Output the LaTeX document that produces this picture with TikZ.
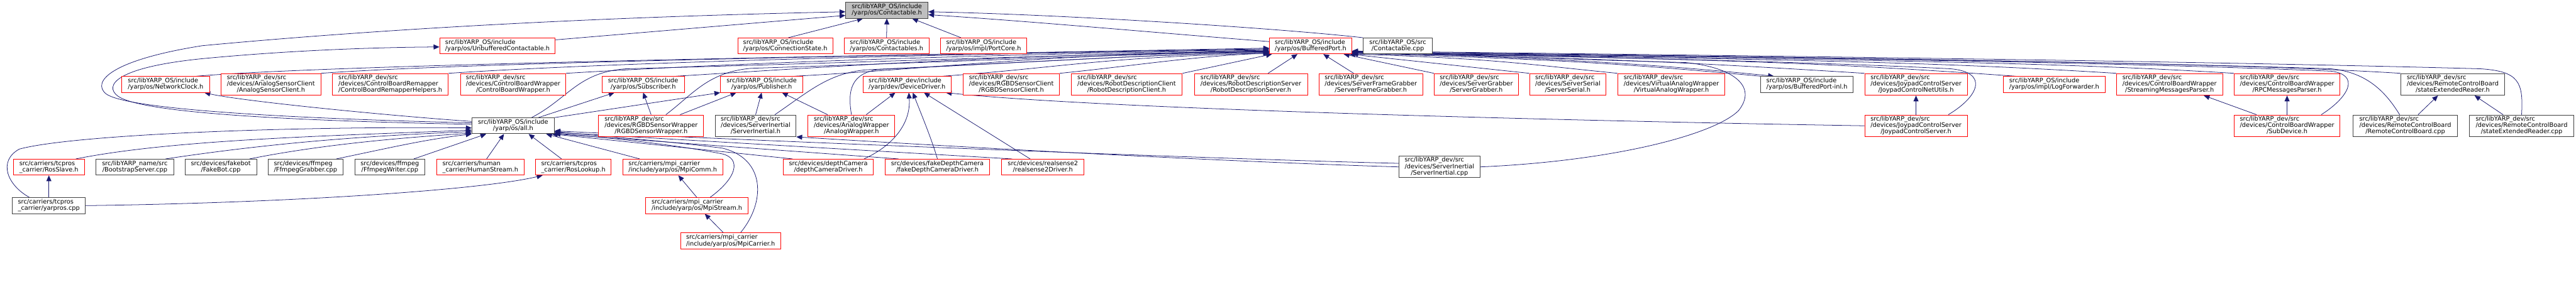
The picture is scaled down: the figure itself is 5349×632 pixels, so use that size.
\documentclass[tikz,border=0pt]{standalone}
\usepackage{fontspec}
\setmainfont{DejaVu Sans}
\usetikzlibrary{arrows.meta}
\pgfdeclarelayer{background}
\pgfsetlayers{background,main}
\definecolor{edgeblue}{HTML}{191970}
\definecolor{boxgrey}{HTML}{404040}
\definecolor{rootfill}{HTML}{BFBFBF}
\definecolor{boxred}{HTML}{FF0000}
\newcommand{\gnode}[7]{\node[#1, minimum width={(#5-#3)*0.5pt}, minimum height={(#6-#4)*0.5pt}] (#2) at ({(#3+#5)/2},{(#4+#6)/2}) {#7};}
\newcommand{\labtwo}[2]{\begin{tabular}{@{}l@{}}#1\\\multicolumn{1}{@{}c@{}}{#2}\end{tabular}}
\newcommand{\labthree}[3]{\begin{tabular}{@{}l@{}}#1\\#2\\\multicolumn{1}{@{}c@{}}{#3}\end{tabular}}
\begin{document}
\begin{tikzpicture}[x=0.5pt,y=-0.5pt,
  gbox/.style={rectangle, draw, line width=0.6pt, inner sep=0pt, fill=white, font=\fontsize{6.4}{6.2}\selectfont},
  redbox/.style={gbox, draw=boxred},
  greybox/.style={gbox, draw=boxgrey},
  rootbox/.style={gbox, draw=boxgrey, fill=rootfill},
  dep/.style={edgeblue, line width=0.5pt, -{Triangle[length=6pt,width=5.2pt]}}]
\useasboundingbox (0,0) rectangle (5349,632);
% row 0
\gnode{rootbox}{cont}{1756}{5}{1927}{38}{\labtwo{src/libYARP\_OS/include}{/yarp/os/Contactable.h}}
% row 1
\gnode{redbox}{unb}{913}{79}{1153}{112}{\labtwo{src/libYARP\_OS/include}{/yarp/os/UnbufferedContactable.h}}
\gnode{redbox}{cstate}{1532}{79}{1729}{112}{\labtwo{src/libYARP\_OS/include}{/yarp/os/ConnectionState.h}}
\gnode{redbox}{ctbles}{1753}{79}{1929}{112}{\labtwo{src/libYARP\_OS/include}{/yarp/os/Contactables.h}}
\gnode{redbox}{pcore}{1953}{79}{2132}{112}{\labtwo{src/libYARP\_OS/include}{/yarp/os/impl/PortCore.h}}
\gnode{redbox}{bp}{2636}{79}{2807}{112}{\labtwo{src/libYARP\_OS/include}{/yarp/os/BufferedPort.h}}
\gnode{greybox}{ccpp}{2831}{79}{2974}{112}{\labtwo{src/libYARP\_OS/src}{/Contactable.cpp}}
% row 2
\gnode{redbox}{nclock}{253}{159}{435}{192}{\labtwo{src/libYARP\_OS/include}{/yarp/os/NetworkClock.h}}
\gnode{redbox}{asc}{459}{153}{666}{198}{\labthree{src/libYARP\_dev/src}{/devices/AnalogSensorClient}{/AnalogSensorClient.h}}
\gnode{redbox}{cbrh}{690}{153}{931}{198}{\labthree{src/libYARP\_dev/src}{/devices/ControlBoardRemapper}{/ControlBoardRemapperHelpers.h}}
\gnode{redbox}{cbw}{956}{153}{1175}{198}{\labthree{src/libYARP\_dev/src}{/devices/ControlBoardWrapper}{/ControlBoardWrapper.h}}
\gnode{redbox}{sub}{1250}{159}{1421}{192}{\labtwo{src/libYARP\_OS/include}{/yarp/os/Subscriber.h}}
\gnode{redbox}{pub}{1496}{159}{1667}{192}{\labtwo{src/libYARP\_OS/include}{/yarp/os/Publisher.h}}
\gnode{redbox}{dd}{1792}{159}{1975}{192}{\labtwo{src/libYARP\_dev/include}{/yarp/dev/DeviceDriver.h}}
\gnode{redbox}{rgbdc}{2000}{153}{2200}{198}{\labthree{src/libYARP\_dev/src}{/devices/RGBDSensorClient}{/RGBDSensorClient.h}}
\gnode{redbox}{rdc}{2224}{153}{2455}{198}{\labthree{src/libYARP\_dev/src}{/devices/RobotDescriptionClient}{/RobotDescriptionClient.h}}
\gnode{redbox}{rds}{2480}{153}{2715}{198}{\labthree{src/libYARP\_dev/src}{/devices/RobotDescriptionServer}{/RobotDescriptionServer.h}}
\gnode{redbox}{sfg}{2739}{153}{2954}{198}{\labthree{src/libYARP\_dev/src}{/devices/ServerFrameGrabber}{/ServerFrameGrabber.h}}
\gnode{redbox}{sg}{2978}{153}{3153}{198}{\labthree{src/libYARP\_dev/src}{/devices/ServerGrabber}{/ServerGrabber.h}}
\gnode{redbox}{ss}{3176}{153}{3335}{198}{\labthree{src/libYARP\_dev/src}{/devices/ServerSerial}{/ServerSerial.h}}
\gnode{redbox}{vaw}{3359}{153}{3582}{198}{\labthree{src/libYARP\_dev/src}{/devices/VirtualAnalogWrapper}{/VirtualAnalogWrapper.h}}
\gnode{greybox}{bpinl}{3656}{159}{3848}{192}{\labtwo{src/libYARP\_OS/include}{/yarp/os/BufferedPort-inl.h}}
\gnode{redbox}{jnu}{3872}{153}{4085}{198}{\labthree{src/libYARP\_dev/src}{/devices/JoypadControlServer}{/JoypadControlNetUtils.h}}
\gnode{redbox}{logf}{4160}{159}{4371}{192}{\labtwo{src/libYARP\_OS/include}{/yarp/os/impl/LogForwarder.h}}
\gnode{redbox}{smp}{4395}{153}{4615}{198}{\labthree{src/libYARP\_dev/src}{/devices/ControlBoardWrapper}{/StreamingMessagesParser.h}}
\gnode{redbox}{rpc}{4639}{153}{4859}{198}{\labthree{src/libYARP\_dev/src}{/devices/ControlBoardWrapper}{/RPCMessagesParser.h}}
\gnode{greybox}{serh}{4985}{153}{5201}{198}{\labthree{src/libYARP\_dev/src}{/devices/RemoteControlBoard}{/stateExtendedReader.h}}
% row 3
\gnode{greybox}{all}{980}{245}{1151}{278}{\labtwo{src/libYARP\_OS/include}{/yarp/os/all.h}}
\gnode{redbox}{rgbdw}{1243}{239}{1461}{284}{\labthree{src/libYARP\_dev/src}{/devices/RGBDSensorWrapper}{/RGBDSensorWrapper.h}}
\gnode{greybox}{sih}{1485}{239}{1653}{284}{\labthree{src/libYARP\_dev/src}{/devices/ServerInertial}{/ServerInertial.h}}
\gnode{redbox}{aw}{1678}{239}{1858}{284}{\labthree{src/libYARP\_dev/src}{/devices/AnalogWrapper}{/AnalogWrapper.h}}
\gnode{redbox}{jcs}{3872}{239}{4085}{284}{\labthree{src/libYARP\_dev/src}{/devices/JoypadControlServer}{/JoypadControlServer.h}}
\gnode{redbox}{subd}{4639}{239}{4859}{284}{\labthree{src/libYARP\_dev/src}{/devices/ControlBoardWrapper}{/SubDevice.h}}
\gnode{greybox}{rcb}{4886}{239}{5103}{284}{\labthree{src/libYARP\_dev/src}{/devices/RemoteControlBoard}{/RemoteControlBoard.cpp}}
\gnode{greybox}{sercpp}{5128}{239}{5344}{284}{\labthree{src/libYARP\_dev/src}{/devices/RemoteControlBoard}{/stateExtendedReader.cpp}}
% row 4
\gnode{redbox}{rosslave}{28}{331}{175}{364}{\labtwo{src/carriers/tcpros}{\_carrier/RosSlave.h}}
\gnode{greybox}{boot}{199}{331}{361}{364}{\labtwo{src/libYARP\_name/src}{/BootstrapServer.cpp}}
\gnode{greybox}{fakebot}{384}{331}{533}{364}{\labtwo{src/devices/fakebot}{/FakeBot.cpp}}
\gnode{greybox}{ffg}{557}{331}{712}{364}{\labtwo{src/devices/ffmpeg}{/FfmpegGrabber.cpp}}
\gnode{greybox}{ffw}{737}{331}{882}{364}{\labtwo{src/devices/ffmpeg}{/FfmpegWriter.cpp}}
\gnode{redbox}{human}{907}{331}{1088}{364}{\labtwo{src/carriers/human}{\_carrier/HumanStream.h}}
\gnode{redbox}{roslookup}{1112}{331}{1269}{364}{\labtwo{src/carriers/tcpros}{\_carrier/RosLookup.h}}
\gnode{redbox}{mpicomm}{1293}{331}{1501}{364}{\labtwo{src/carriers/mpi\_carrier}{/include/yarp/os/MpiComm.h}}
\gnode{redbox}{dcd}{1627}{331}{1813}{364}{\labtwo{src/devices/depthCamera}{/depthCameraDriver.h}}
\gnode{redbox}{fdcd}{1838}{331}{2055}{364}{\labtwo{src/devices/fakeDepthCamera}{/fakeDepthCameraDriver.h}}
\gnode{redbox}{rs2}{2080}{331}{2251}{364}{\labtwo{src/devices/realsense2}{/realsense2Driver.h}}
\gnode{greybox}{sicpp}{2905}{325}{3073}{369}{\labthree{src/libYARP\_dev/src}{/devices/ServerInertial}{/ServerInertial.cpp}}
% row 5, 6
\gnode{greybox}{yarpros}{26}{411}{177}{444}{\labtwo{src/carriers/tcpros}{\_carrier/yarpros.cpp}}
\gnode{redbox}{mpistream}{1341}{411}{1553}{444}{\labtwo{src/carriers/mpi\_carrier}{/include/yarp/os/MpiStream.h}}
\gnode{redbox}{mpicarrier}{1413}{484}{1621}{518}{\labtwo{src/carriers/mpi\_carrier}{/include/yarp/os/MpiCarrier.h}}

\begin{pgfonlayer}{background}
% into Contactable.h
\draw[dep] (all.176) .. controls (550,245) and (260,225) .. (220,195) .. controls (190,170) and (230,125) .. (420,95) .. controls (900,50) and (1400,32) .. (cont.182);
\draw[dep] (all.178) .. controls (550,250) and (290,232) .. (245,200) .. controls (215,178) and (240,140) .. (420,122) .. controls (650,100) and (850,98) .. (unb.181);
\draw[dep] (unb.6) -- (cont.187);
\draw[dep] (cstate.70) -- (cont.199);
\draw[dep] (ctbles.north) -- (cont.south);
\draw[dep] (pcore.160) -- (cont.342);
\draw[dep] (ccpp.north west) .. controls (2650,58) and (2200,30) .. (cont.358);
\draw[dep] (bp.174) .. controls (2400,68) and (2150,45) .. (cont.354);
\draw[dep] (all.174) .. controls (800,240) and (500,210) .. (nclock.348);
% into BufferedPort.h from the left
\draw[dep] (nclock.15) .. controls +(300,-25) and +(-800,15) .. (bp.183);
\draw[dep] (asc.north east) .. controls +(300,-22) and +(-800,13) .. (bp.184);
\draw[dep] (cbrh.north east) .. controls +(300,-20) and +(-800,11) .. (bp.185);
\draw[dep] (cbw.north east) .. controls +(300,-18) and +(-700,10) .. (bp.186);
\draw[dep] (sub.14) .. controls +(300,-18) and +(-600,9) .. (bp.187);
\draw[dep] (pub.14) .. controls +(300,-16) and +(-500,8) .. (bp.187.5);
\draw[dep] (all.24) .. controls (1180,205) and (1200,150) .. (1300,143) .. controls (1800,130) and (2300,110) .. (bp.188);
\draw[dep] (rgbdw.37) .. controls (1440,195) and (1470,150) .. (1560,142) .. controls (2000,128) and (2400,110) .. (bp.188.5);
\draw[dep] (sih.30) .. controls (1680,190) and (1720,152) .. (1800,145) .. controls (2100,132) and (2400,112) .. (bp.189);
\draw[dep] (aw.north) .. controls (1760,190) and (1765,150) .. (1830,144) .. controls (2100,132) and (2400,112) .. (bp.189.5);
\draw[dep] (dd.13) .. controls +(250,-18) and +(-350,8) .. (bp.190);
\draw[dep] (rgbdc.north east) .. controls +(150,-15) and +(-150,5) .. (bp.190.5);
\draw[dep] (rdc.north east) -- (bp.192);
\draw[dep] (rds.33) -- (bp.212);
\draw[dep] (sfg.147) -- (bp.327);
\draw[dep] (sg.north west) -- (bp.346);
% into BufferedPort.h from the right
\draw[dep] (ss.north west) -- (bp.348.5);
\draw[dep] (vaw.north west) .. controls +(-200,-20) and +(300,10) .. (bp.349.5);
\draw[dep] (bpinl.north west) .. controls +(-300,-28) and +(400,12) .. (bp.350);
\draw[dep] (bp.352) .. controls +(400,14) and +(-300,-30) .. (bpinl.166);
\draw[dep] (jnu.north west) .. controls +(-400,-25) and +(500,10) .. (bp.350.5);
\draw[dep] (jcs.19) .. controls (4110,200) and (4130,150) .. (4050,143) .. controls (3700,125) and (3100,115) .. (bp.351);
\draw[dep] (logf.168) .. controls +(-400,-28) and +(800,15) .. (bp.351);
\draw[dep] (smp.north west) .. controls +(-400,-25) and +(900,15) .. (bp.351.5);
\draw[dep] (rpc.north west) .. controls +(-400,-25) and +(1000,15) .. (bp.351.5);
\draw[dep] (subd.18) .. controls (4880,200) and (4900,155) .. (4840,148) .. controls (4300,125) and (3300,115) .. (bp.352);
\draw[dep] (rcb.117) .. controls (4950,185) and (4910,150) .. (4840,143) .. controls (4300,125) and (3300,113) .. (bp.352);
\draw[dep] (serh.north west) .. controls +(-400,-25) and +(1000,15) .. (bp.352.5);
\draw[dep] (sercpp.north) .. controls (5240,170) and (5230,148) .. (5150,143) .. controls (4500,125) and (3300,112) .. (bp.353);
\draw[dep] (sicpp.east) .. controls (3350,335) and (3560,280) .. (3610,230) .. controls (3650,180) and (3600,140) .. (3500,130) .. controls (3200,122) and (3000,112) .. (bp.353);
% into Subscriber.h, Publisher.h
\draw[dep] (all.18) -- (sub.196);
\draw[dep] (rgbdw.north) -- (sub.south);
\draw[dep] (all.north east) -- (pub.south west);
\draw[dep] (rgbdw.21) -- (pub.198);
\draw[dep] (sih.north) -- (pub.south);
\draw[dep] (aw.155) -- (pub.338);
% into DeviceDriver.h
\draw[dep] (aw.37) -- (dd.215);
\draw[dep] (dcd.13) .. controls (1850,305) and (1892,260) .. (dd.282);
\draw[dep] (fdcd.north) .. controls (1935,290) and (1910,230) .. (dd.305);
\draw[dep] (rs2.147) -- (dd.334);
\draw[dep] (jcs.west) .. controls (3300,252) and (2300,228) .. (dd.348);
% into ServerInertial.h
\draw[dep] (sicpp.west) .. controls (2500,335) and (1900,300) .. (sih.south east);
% into all.h
\draw[dep] (yarpros.157) .. controls (15,385) and (-5,335) .. (40,310) .. controls (150,280) and (600,262) .. (all.183);
\draw[dep] (rosslave.17) .. controls +(200,-40) and +(-300,12) .. (all.186);
\draw[dep] (boot.15) .. controls +(200,-30) and +(-250,10) .. (all.188);
\draw[dep] (fakebot.16) .. controls +(150,-30) and +(-150,10) .. (all.190);
\draw[dep] (ffg.15) .. controls +(120,-25) and +(-100,12) .. (all.south west);
\draw[dep] (ffw.19) -- (all.197);
\draw[dep] (human.53) -- (all.222);
\draw[dep] (roslookup.145) -- (all.332);
\draw[dep] (mpicomm.166) -- (all.346);
\draw[dep] (mpistream.32) .. controls (1530,370) and (1540,330) .. (1500,320) .. controls (1400,300) and (1250,285) .. (all.350);
\draw[dep] (mpicarrier.40) .. controls (1590,420) and (1590,330) .. (1500,308) .. controls (1400,295) and (1250,283) .. (all.352);
\draw[dep] (dcd.167) -- (all.348);
\draw[dep] (fdcd.168) -- (all.349);
\draw[dep] (rs2.165) -- (all.351);
\draw[dep] (sicpp.175) .. controls (2500,330) and (1500,290) .. (all.353);
% others
\draw[dep] (yarpros.east) .. controls (600,422) and (1000,395) .. (roslookup.195);
\draw[dep] (yarpros.north) -- (rosslave.south);
\draw[dep] (mpistream.north) -- (mpicomm.304);
\draw[dep] (mpicarrier.131) -- (mpistream.314);
\draw[dep] (jcs.north) -- (jnu.south);
\draw[dep] (subd.160) -- (smp.342);
\draw[dep] (subd.north) -- (rpc.south);
\draw[dep] (rcb.41) -- (serh.217);
\draw[dep] (sercpp.149) -- (serh.333);
\end{pgfonlayer}
\end{tikzpicture}
\end{document}
